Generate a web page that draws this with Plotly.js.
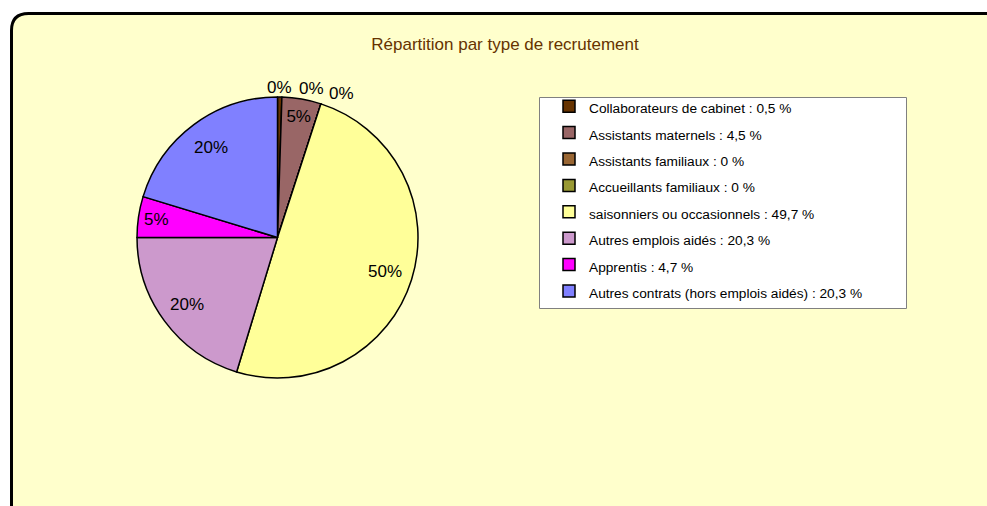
<!DOCTYPE html>
<html>
<head>
<meta charset="utf-8">
<script src="https://cdn.plot.ly/plotly-3.0.1.min.js"></script>
<style>html,body{margin:0;padding:0;background:#fff;}#chart{width:987px;height:506px;}</style>
</head>
<body>
<div id="chart"></div>
<script>
// ---- data ----
var categories = [
  "Collaborateurs de cabinet",
  "Assistants maternels",
  "Assistants familiaux",
  "Accueillants familiaux",
  "saisonniers ou occasionnels",
  "Autres emplois aidés",
  "Apprentis",
  "Autres contrats (hors emplois aidés)"
];
var values = [0.5, 4.5, 0, 0, 49.7, 20.3, 4.7, 20.3];
var sliceLabels = ["0%", "5%", "0%", "0%", "50%", "20%", "5%", "20%"];
var colors = ["#663300", "#996666", "#996633", "#999933", "#FFFF99", "#CC99CC", "#FF00FF", "#8080FF"];

// ---- helpers (layout only) ----
var W = 987, H = 506;
function px(x) { return x / W; }
function py(y) { return 1 - y / H; }

var FONT = "Liberation Sans, Arial, sans-serif";
var LABEL_FONT = { family: FONT, size: 17, color: '#000000' };

var legendNames = categories.map(function (c, i) {
  return '<span style="font-size:13.7px">' + c + ' : ' + String(values[i]).replace('.', ',') + ' %</span>';
});

// pie geometry (domain)
var PIE = { cx: 277.5, cy: 237.5, r: 140.5 };

// tiny slices: label just outside the rim (no leader lines)
var outsideSpots = { 0: [279, 87], 2: [311, 88], 3: [341, 93] };
// large slices: label along the slice's mid-angle, at 80% of the radius
var radialSlices = [4, 5, 7];

var total = values.reduce(function (a, b) { return a + b; }, 0);
var cum = 0;
var midFrac = values.map(function (v) { var m = (cum + v / 2) / total; cum += v; return m; });

var annotations = [];
Object.keys(outsideSpots).forEach(function (k) {
  var p = outsideSpots[k];
  annotations.push({
    text: sliceLabels[+k], xref: 'paper', yref: 'paper',
    x: px(p[0]), y: py(p[1]), xanchor: 'center', yanchor: 'middle',
    showarrow: false, font: LABEL_FONT
  });
});
radialSlices.forEach(function (i) {
  var a = midFrac[i] * 2 * Math.PI; // clockwise from 12 o'clock
  var x = PIE.cx + 0.8 * PIE.r * Math.sin(a);
  var y = PIE.cy - 0.8 * PIE.r * Math.cos(a);
  annotations.push({
    text: sliceLabels[i], xref: 'paper', yref: 'paper',
    x: px(x), y: py(y), xanchor: 'center', yanchor: 'middle',
    showarrow: false, font: LABEL_FONT
  });
});

var textPositions = sliceLabels.map(function (t, i) {
  return (outsideSpots[i] || radialSlices.indexOf(i) >= 0) ? 'none' : 'inside';
});

var r = 17, L = 11.5, T = 13.5, R = 1000, B = 520;
var framePath = 'M' + px(L) + ',' + py(B) +
  ' L' + px(L) + ',' + py(T + r) +
  ' Q' + px(L) + ',' + py(T) + ' ' + px(L + r) + ',' + py(T) +
  ' L' + px(R) + ',' + py(T) +
  ' L' + px(R) + ',' + py(B) + ' Z';

var trace = {
  type: 'pie',
  labels: legendNames,
  values: values,
  text: sliceLabels,
  textinfo: 'text',
  textposition: textPositions,
  insidetextorientation: 'horizontal',
  sort: false,
  direction: 'clockwise',
  rotation: 0,
  marker: { colors: colors, line: { color: '#000000', width: 1.5 } },
  textfont: LABEL_FONT,
  insidetextfont: LABEL_FONT,
  domain: { x: [px(PIE.cx - PIE.r), px(PIE.cx + PIE.r)], y: [py(PIE.cy + PIE.r), py(PIE.cy - PIE.r)] },
  hoverinfo: 'label+percent',
  showlegend: true
};

var layout = {
  width: W, height: H,
  margin: { l: 0, r: 0, t: 0, b: 0, pad: 0 },
  paper_bgcolor: '#FFFFFF',
  font: { family: FONT, color: '#000000' },
  title: {
    text: 'Répartition par type de recrutement',
    font: { family: FONT, size: 17, color: '#663300' },
    x: px(505), xanchor: 'center', xref: 'paper',
    y: py(44), yanchor: 'middle', yref: 'container'
  },
  legend: {
    x: px(549), xanchor: 'left',
    y: py(88), yanchor: 'top',
    bgcolor: 'rgba(0,0,0,0)',
    borderwidth: 0,
    font: { family: FONT, size: 18, color: '#000000' },
    traceorder: 'normal'
  },
  annotations: annotations,
  shapes: [
    { type: 'path', xref: 'paper', yref: 'paper', path: framePath,
      fillcolor: '#FFFFCC', line: { color: '#000000', width: 3 }, layer: 'below' },
    { type: 'rect', xref: 'paper', yref: 'paper',
      x0: px(539.5), x1: px(906.5), y0: py(308.5), y1: py(97.5),
      fillcolor: '#FFFFFF', line: { color: '#808080', width: 1 }, layer: 'below' }
  ]
};

Plotly.newPlot('chart', [trace], layout, { displayModeBar: false, staticPlot: true });
</script>
</body>
</html>
